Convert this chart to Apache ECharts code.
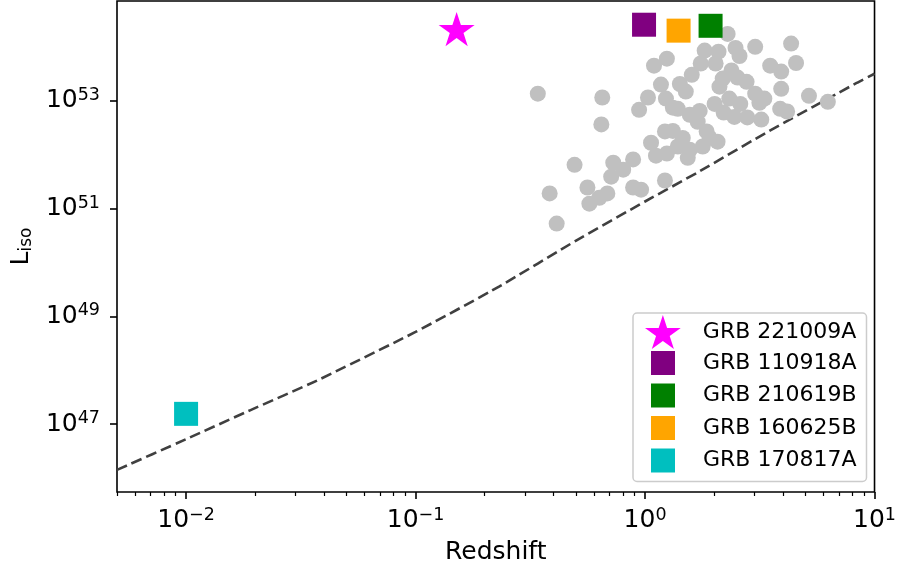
<!DOCTYPE html>
<html>
<head>
<meta charset="utf-8">
<script src="https://cdn.jsdelivr.net/npm/echarts@6.0.0/dist/echarts.min.js"></script>
<style>
  html, body { margin: 0; padding: 0; background: #fff; }
  #chart { width: 899px; height: 571px; }
</style>
</head>
<body>
<div id="chart"></div>
<script>
// GRB sample (grey dots): redshift and log10(L_iso)
var sampleZ = [0.341, 0.384, 0.412, 0.493, 0.561, 0.572, 0.632, 0.685, 0.712, 0.727,
  0.803, 0.887, 0.887, 0.961, 0.645, 0.651, 0.942, 1.03, 1.094, 1.245,
  1.173, 1.233, 1.322, 1.389, 1.418, 1.505, 1.598, 1.748, 1.819, 2.03,
  2.01, 1.566, 1.730, 1.696, 1.221, 1.322, 1.460, 1.062, 1.116, 1.245,
  1.389, 1.535, 1.566, 1.783, 1.855, 1.911, 2.07, 1.221, 2.11, 2.29,
  2.09, 2.48, 2.58, 3.02, 4.33, 2.38, 3.51, 3.92, 4.55, 2.18,
  2.53, 2.77, 3.02, 3.31, 3.92, 2.33, 2.60, 2.20, 2.45, 2.79,
  3.21, 3.88, 4.16, 5.18, 6.26, 3.15];
var sampleLogL = [53.13, 51.28, 50.72, 51.81, 51.39, 51.09, 51.20, 51.28, 51.59, 51.85,
  51.72, 51.91, 51.39, 51.35, 52.56, 53.06, 52.83, 53.06, 53.65, 53.78,
  53.30, 53.04, 52.87, 52.85, 53.31, 53.17, 53.48, 53.69, 53.93, 53.69,
  52.94, 52.74, 52.81, 52.61, 52.43, 52.44, 52.31, 52.22, 51.98, 52.02,
  52.15, 51.94, 52.09, 52.15, 52.43, 52.31, 52.24, 51.52, 53.26, 54.24,
  53.91, 53.98, 53.83, 54.00, 54.06, 53.56, 53.65, 53.54, 53.70, 53.41,
  53.43, 53.35, 53.13, 53.04, 53.22, 53.04, 52.94, 52.78, 52.70, 52.69,
  52.65, 52.85, 52.80, 53.09, 52.98, 52.96];

// highlighted bursts
var grbNames = ['GRB 221009A', 'GRB 110918A', 'GRB 210619B', 'GRB 160625B', 'GRB 170817A'];
var grbZ = [0.151, 0.99, 1.93, 1.40, 0.01];
var grbLogL = [54.33, 54.41, 54.39, 54.30, 47.19];
var grbColors = ['#ff00ff', '#800080', '#008000', '#ffa500', '#00bfbf'];

// detection limit (dashed curve)
var limitZ = [0.005, 0.01, 0.0191, 0.0373, 0.1, 0.231, 0.503, 1, 1.696, 3.48, 8.36, 10];
var limitLogL = [46.15, 46.72, 47.26, 47.81, 48.71, 49.55, 50.41, 51.13, 51.67, 52.44, 53.33, 53.50];

// axes (log10 space)
var xMin = Math.log10(0.005), xMax = 1;
var yMin = 45.74, yMax = 54.85;
var xMajor = [-2, -1, 0, 1];
var yMajor = [47, 49, 51, 53];

var FONT = 'DejaVu Sans';
var starPath = 'path://M100,0 L122.45,69.1 L195.1,69.1 L136.3,111.8 L158.8,180.9 L100,138.2 L41.2,180.9 L63.7,111.8 L4.9,69.1 L77.55,69.1 Z';

// minor ticks at 2..9 x 10^n
var xMinor = [];
for (var d = -3; d <= 0; d++) {
  for (var k = 2; k <= 9; k++) {
    var v = d + Math.log10(k);
    if (v >= xMin - 1e-9 && v <= xMax) xMinor.push(v);
  }
}

function powLabel(v) {
  var e = Math.round(v);
  return '{b|10}{s|' + (e < 0 ? '\u2212' + (-e) : e) + '}';
}
var powRich = {
  b: { fontFamily: FONT, fontSize: 25, color: '#000', lineHeight: 29 },
  s: { fontFamily: FONT, fontSize: 17.5, color: '#000', lineHeight: 20, verticalAlign: 'top' }
};

function pairs(xs, ys) {
  return xs.map(function (x, i) { return [Math.log10(x), ys[i]]; });
}

var chart = echarts.init(document.getElementById('chart'), null, { renderer: 'canvas' });

var series = [
  {
    name: 'limit',
    type: 'line',
    data: pairs(limitZ, limitLogL),
    showSymbol: false,
    smooth: 0.15,
    lineStyle: { color: '#404040', width: 2.6, type: [11, 5] },
    silent: true,
    z: 2
  },
  {
    name: 'sample',
    type: 'scatter',
    data: pairs(sampleZ, sampleLogL),
    symbol: 'circle',
    symbolSize: 16,
    itemStyle: { color: '#c0c0c0', opacity: 1 },
    silent: true,
    z: 3
  }
];
grbNames.forEach(function (n, i) {
  series.push({
    name: n,
    type: 'scatter',
    data: [[Math.log10(grbZ[i]), grbLogL[i]]],
    symbol: i === 0 ? starPath : 'rect',
    symbolKeepAspect: true,
    symbolSize: i === 0 ? 36 : 24,
    itemStyle: { color: grbColors[i], opacity: 1 },
    silent: true,
    z: 4
  });
});

var option = {
  animation: false,
  grid: {
    left: 117, right: 22, top: 1, bottom: 79,
    show: true, borderColor: '#000', borderWidth: 1.6, backgroundColor: 'transparent'
  },
  xAxis: [
    {
      type: 'value', min: xMin, max: xMax,
      name: 'Redshift', nameLocation: 'middle', nameGap: 48,
      nameTextStyle: { fontFamily: FONT, fontSize: 25, color: '#000' },
      axisLine: { show: false, onZero: false },
      splitLine: { show: false },
      axisTick: { show: true, customValues: xMajor, length: 7, lineStyle: { color: '#000', width: 1.6 } },
      axisLabel: { customValues: xMajor, margin: 14, formatter: powLabel, rich: powRich }
    },
    {
      type: 'value', min: xMin, max: xMax, gridIndex: 0, position: 'bottom',
      axisLine: { show: false, onZero: false },
      splitLine: { show: false },
      axisLabel: { show: false },
      axisTick: { show: true, customValues: xMinor, length: 4, lineStyle: { color: '#000', width: 1.2 } }
    }
  ],
  yAxis: {
    type: 'value', min: yMin, max: yMax,
    name: '{a|L}{b|iso}', nameLocation: 'middle', nameGap: 82, nameRotate: 90,
    nameTextStyle: {
      rich: {
        a: { fontFamily: FONT, fontSize: 25, color: '#000', lineHeight: 28 },
        b: { fontFamily: FONT, fontSize: 17, color: '#000', lineHeight: 19, verticalAlign: 'bottom' }
      }
    },
    axisLine: { show: false, onZero: false },
    splitLine: { show: false },
    axisTick: { show: true, customValues: yMajor, length: 7, lineStyle: { color: '#000', width: 1.6 } },
    axisLabel: { customValues: yMajor, margin: 17, formatter: powLabel, rich: powRich }
  },
  legend: [
    {
      data: [{ name: grbNames[0], icon: starPath }],
      orient: 'vertical', left: 645, top: 315,
      itemWidth: 36, itemHeight: 34, selectedMode: false,
      padding: 0,
      textStyle: { fontFamily: FONT, fontSize: 22, color: '#000', padding: [0, 0, 0, 17] },
      z: 20
    },
    {
      data: grbNames.slice(1).map(function (n) { return { name: n, icon: 'rect' }; }),
      orient: 'vertical', left: 633, top: 313,
      itemWidth: 24, itemHeight: 24, itemGap: 8.5, selectedMode: false,
      padding: [38, 10, 9, 18],
      backgroundColor: 'rgba(255,255,255,0.8)',
      borderColor: '#cccccc', borderWidth: 1.5, borderRadius: 4,
      textStyle: { fontFamily: FONT, fontSize: 22, color: '#000', lineHeight: 24, padding: [0, 0, 0, 23] },
      z: 10
    }
  ],
  series: series
};
chart.setOption(option);
</script>
</body>
</html>
